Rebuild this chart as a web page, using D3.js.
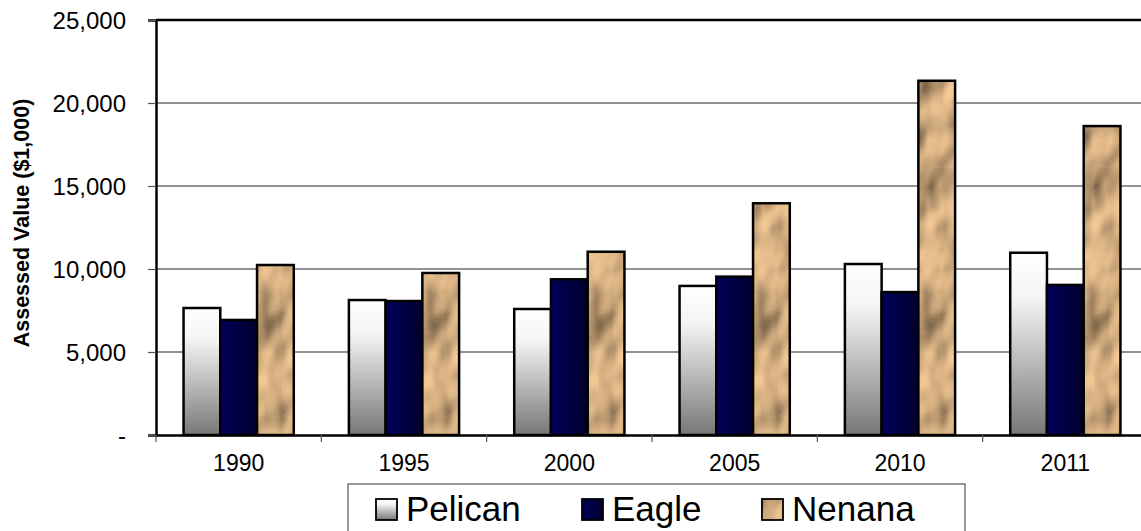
<!DOCTYPE html>
<html><head><meta charset="utf-8">
<script src="https://cdn.jsdelivr.net/npm/d3@7"></script>
<style>body{margin:0;background:#fff}svg{display:block;font-family:"Liberation Sans",Arial,sans-serif}</style>
</head><body>
<svg id="c" width="1141" height="531"></svg>
<script>
const categories = ["1990","1995","2000","2005","2010","2011"];
const seriesNames = ["Pelican","Eagle","Nenana"];
const pelican = [7650, 8130, 7590, 8980, 10300, 10980];
const eagle   = [6930, 8070, 9380, 9540, 8610, 9040];
const nenana  = [10240, 9760, 11040, 13960, 21340, 18610];
const yTicks = [0, 5000, 10000, 15000, 20000, 25000];
const yTitle = "Assessed Value ($1,000)";

(function(){
const values = [pelican, eagle, nenana];
const svg = d3.select("#c");
const defs = svg.append("defs");

const gp = defs.append("linearGradient").attr("id","gPel").attr("x1",0).attr("y1",0).attr("x2",0).attr("y2",1);
gp.append("stop").attr("offset","0%").attr("stop-color","#ffffff");
gp.append("stop").attr("offset","25%").attr("stop-color","#f4f4f4");
gp.append("stop").attr("offset","100%").attr("stop-color","#777777");
const ge = defs.append("linearGradient").attr("id","gEag").attr("x1",0).attr("y1",0).attr("x2",1).attr("y2",0);
ge.append("stop").attr("offset","0%").attr("stop-color","#00005a");
ge.append("stop").attr("offset","100%").attr("stop-color","#00002c");
const f = defs.append("filter").attr("id","paper").attr("x",0).attr("y",0).attr("width","100%").attr("height","100%");
f.append("feTurbulence").attr("type","fractalNoise").attr("baseFrequency","0.018 0.012").attr("numOctaves",3).attr("seed",5).attr("result","noise");
const dl = f.append("feDiffuseLighting").attr("in","noise").attr("surfaceScale",12).attr("diffuseConstant",1.35).attr("lighting-color","#e6bd8c").attr("result","lit");
dl.append("feDistantLight").attr("azimuth",225).attr("elevation",40);
f.append("feComposite").attr("in","lit").attr("in2","SourceGraphic").attr("operator","in");
const pat = defs.append("pattern").attr("id","pNen").attr("patternUnits","userSpaceOnUse").attr("width",300).attr("height",450);
pat.append("rect").attr("width",300).attr("height",450).attr("fill","#c9a478").attr("filter","url(#paper)");
const fills = ["url(#gPel)","url(#gEag)","url(#pNen)"];

const pLeft = 156, pRight = 1148, pTop = 20, pBottom = 435;
const x = d3.scaleBand().domain(categories).range([pLeft, pRight]).paddingInner(0).paddingOuter(0);
const xs = d3.scaleBand().domain(seriesNames).range([x.bandwidth()/6, x.bandwidth()*5/6]).padding(0);
const y = d3.scaleLinear().domain([0, 25000]).range([pBottom, pTop]);

svg.append("g").selectAll("line").data(yTicks.slice(1,-1)).join("line")
  .attr("x1",pLeft).attr("x2",pRight).attr("y1",d=>y(d)).attr("y2",d=>y(d))
  .attr("stroke","#262626").attr("stroke-width",1.2);

const groups = svg.append("g").selectAll("g").data(categories).join("g")
  .attr("transform",c=>`translate(${x(c)},0)`);
groups.selectAll("rect").data((c,i)=>seriesNames.map((s,j)=>({s,j,v:values[j][i]}))).join("rect")
  .attr("x",d=>xs(d.s)).attr("width",xs.bandwidth())
  .attr("y",d=>y(d.v)).attr("height",d=>pBottom-y(d.v))
  .attr("fill",d=>fills[d.j]).attr("stroke","#000").attr("stroke-width",2.5);

svg.append("line").attr("x1",pLeft).attr("x2",pRight).attr("y1",pTop).attr("y2",pTop).attr("stroke","#000").attr("stroke-width",2.5);

const ya = d3.axisLeft(y).tickValues(yTicks).tickSize(8).tickPadding(22)
  .tickFormat(d=> d===0 ? "-" : d3.format(",")(d));
const yg = svg.append("g").attr("transform",`translate(${pLeft},0)`).call(ya)
  .attr("font-size",24).attr("font-family","Liberation Sans, Arial, sans-serif");
yg.select(".domain").attr("stroke","#000").attr("stroke-width",2.5);
yg.selectAll(".tick line").attr("stroke","#555").attr("stroke-width",1.2);
yg.selectAll(".tick text").attr("fill","#000").attr("dy","0.35em");

const xa = d3.axisBottom(x).tickSize(0).tickPadding(20);
const xg = svg.append("g").attr("transform",`translate(0,${pBottom})`).call(xa)
  .attr("font-size",23).attr("font-family","Liberation Sans, Arial, sans-serif");
xg.select(".domain").attr("stroke","#000").attr("stroke-width",2.5);
xg.selectAll(".tick text").attr("fill","#000");
xg.append("g").selectAll("line").data(categories).join("line")
  .attr("x1",c=>x(c)).attr("x2",c=>x(c)).attr("y1",0).attr("y2",7)
  .attr("stroke","#555").attr("stroke-width",1.2);

svg.append("text").attr("transform","translate(21,223) rotate(-90)").attr("text-anchor","middle")
  .attr("dy","0.35em").attr("font-size",21.5).attr("font-weight","bold").attr("fill","#000").text(yTitle);

const lg = svg.append("g");
lg.append("rect").attr("x",348).attr("y",484).attr("width",617).attr("height",60)
  .attr("fill","#fff").attr("stroke","#555").attr("stroke-width",1.2);
const lx = [376, 582, 762];
const items = lg.selectAll("g").data(seriesNames).join("g").attr("transform",(d,i)=>`translate(${lx[i]},499)`);
items.append("rect").attr("width",21).attr("height",21).attr("fill",(d,i)=>fills[i]).attr("stroke","#000").attr("stroke-width",1.8);
items.append("text").attr("x",30).attr("y",22).attr("font-size",35).attr("fill","#000").text(d=>d);
})();
</script>
</body></html>
